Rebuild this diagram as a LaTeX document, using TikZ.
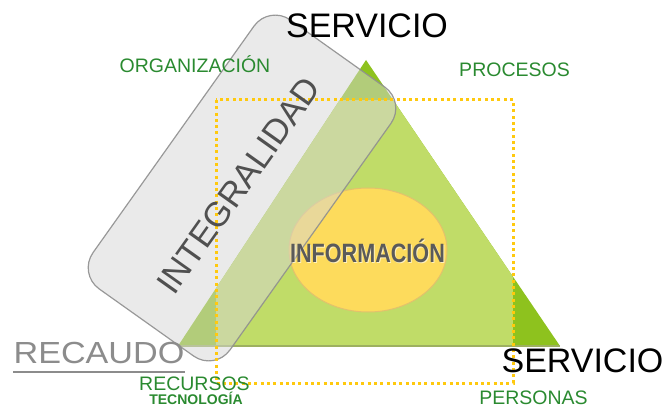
\documentclass[tikz,border=0pt]{standalone}
\usepackage{fontspec}
\setmainfont{Liberation Sans}
\usetikzlibrary{shapes.geometric}
\definecolor{darkgr}{HTML}{8EC21E}
\definecolor{lightgr}{HTML}{C0DC68}
\definecolor{txtgr}{HTML}{2A8A30}
\definecolor{dotyel}{HTML}{FFC90E}
\definecolor{elyel}{HTML}{FDDB5C}
\definecolor{elborder}{HTML}{E2C26C}
\definecolor{boxgray}{HTML}{D6D6D6}
\definecolor{boxline}{HTML}{8F8F8F}
\definecolor{infogray}{HTML}{5A5A5A}
\definecolor{recgray}{HTML}{8C8C8C}
\definecolor{edgegr}{HTML}{9DB060}
\definecolor{integgray}{HTML}{505050}
\begin{document}
\begin{tikzpicture}[x=1pt,y=1pt,
  lbl/.style={inner sep=0pt, anchor=base},
  greenlbl/.style={lbl, text=txtgr, font=\fontsize{19.5}{20}\selectfont},
  bigblack/.style={lbl, text=black, font=\fontsize{34}{34}\selectfont}]
\useasboundingbox (0,0) rectangle (663,407);
% triangle corners
\coordinate (apex) at (366,347);
\coordinate (bl) at (178,61);
\coordinate (br) at (560,61);
\fill[darkgr] (apex) -- (bl) -- (br) -- cycle;
\begin{scope}
  \clip (apex) -- (bl) -- (br) -- cycle;
  \fill[lightgr] (216,307) rectangle (513,24);
\end{scope}
\draw[edgegr,line width=1.3pt] (bl) -- (br);
% ellipse
\node[ellipse, draw=elborder, line width=1pt, fill=elyel, minimum width=158pt, minimum height=124pt, inner sep=0pt] (info) at (368,157) {};
% integralidad box
\node[rectangle, rounded corners=26pt, minimum width=330pt, minimum height=168pt,
  rotate=54.6, draw=boxline, line width=1.2pt, fill=boxgray, fill opacity=0.5, draw opacity=0.9] (box) at (242,219) {};
% dotted rectangle
\draw[dotyel, line width=3pt, dash pattern=on 3pt off 3.3pt] (216,307) rectangle (513,24);
% texts
\node[inner sep=0pt, rotate=54.6, text=integgray, font=\fontsize{34.5}{35}\selectfont] (integ) at (238.5,221.5) {INTEGRALIDAD};
\node[lbl, text=white, opacity=0.6, font=\bfseries\fontsize{26.5}{27}\selectfont, xscale=0.815] (infoshadow) at (368.5,143.5) {INFORMACIÓN};
\node[lbl, text=infogray, font=\bfseries\fontsize{26.5}{27}\selectfont, xscale=0.815] (infotxt) at (367.5,145) {INFORMACIÓN};
\node[bigblack] (serv1) at (367,369) {SERVICIO};
\node[bigblack] (serv2) at (582.5,35) {SERVICIO};
\node[greenlbl] (org) at (195,334) {ORGANIZACIÓN};
\node[greenlbl] (proc) at (514.5,330) {PROCESOS};
\node[greenlbl] (recur) at (194.5,17) {RECURSOS};
\node[greenlbl] (pers) at (533.5,3) {PERSONAS};
\node[lbl, text=txtgr, font=\bfseries\fontsize{14}{14}\selectfont] (tecno) at (196,3) {TECNOLOGÍA};
\node[lbl, text=recgray, font=\fontsize{30.5}{30}\selectfont, xscale=1.12] (recaudo) at (99,44) {RECAUDO};
\draw[recgray, line width=2pt] (13,35) -- (185,35);
\end{tikzpicture}
\end{document}
